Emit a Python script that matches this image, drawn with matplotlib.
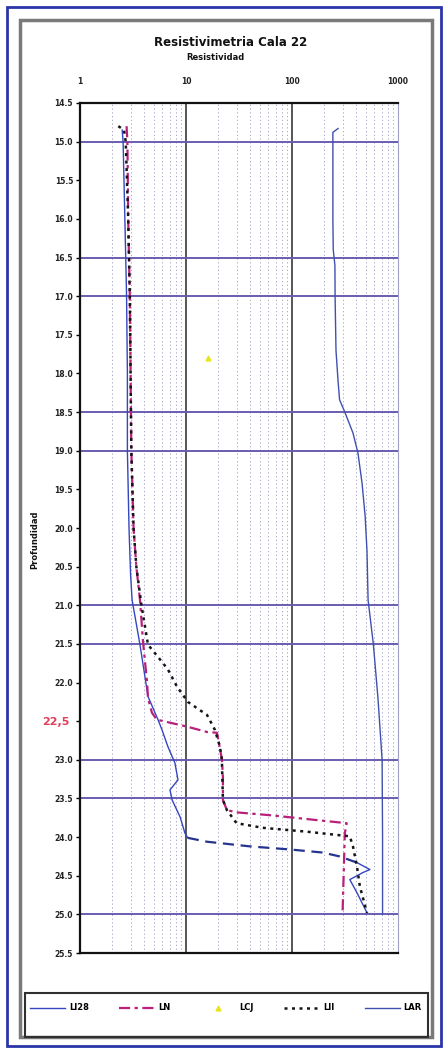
import matplotlib
matplotlib.use("Agg")
import matplotlib.pyplot as plt
from matplotlib.patches import Rectangle
from matplotlib.lines import Line2D
import numpy as np

# --- data ---
li_depth = [14.85, 15.0, 16.0, 17.0, 18.0, 19.0, 20.0, 20.6, 20.93, 21.51, 22.18, 22.48, 22.61,
            22.83, 23.04, 23.26, 23.39, 23.52, 23.74, 23.95, 24.01,
            24.06, 24.12, 24.16, 24.2, 24.25,
            24.33, 24.42, 24.46, 24.55, 24.72, 24.98]
li_val = [2.5, 2.55, 2.65, 2.75, 2.8, 2.8, 2.9, 3.0, 3.1, 3.68, 4.38, 5.44, 5.93,
          6.75, 7.86, 8.4, 7.06, 7.4, 8.8, 9.78, 10.4,
          15.8, 40, 95, 195, 281,
          410, 543, 465, 351, 410, 510]
li_jump = (20, 26)  # points drawn dashed (the jump)

ln_depth = [14.8, 15.0, 16.0, 17.0, 18.0, 19.0, 20.0, 20.5, 20.93, 21.47, 21.98, 22.2, 22.39,
            22.48, 22.57, 22.64, 22.65, 22.99, 23.22, 23.52, 23.65, 23.68, 23.72, 23.78,
            23.82, 23.95, 24.98]
ln_val = [2.75, 2.8, 2.85, 2.95, 3.0, 3.05, 3.2, 3.4, 3.68, 3.93, 4.28, 4.38, 4.77,
          5.3, 10.2, 15.8, 19.6, 21.8, 22.3, 22.3, 24.3, 30, 66, 171,
          328, 315, 300]

lcj_depth = [17.8]
lcj_val = [16]

lii_depth = [14.8, 14.85, 15.0, 16.0, 17.0, 18.0, 19.0, 20.0, 20.5, 21.0, 21.51, 21.7, 21.83,
             22.05, 22.25, 22.42, 22.61, 22.83, 23.0, 23.52, 23.65, 23.82, 23.88, 23.93,
             23.99, 24.12, 24.38, 24.64, 24.98]
lii_val = [2.3, 2.6, 2.7, 2.85, 2.95, 3.0, 3.05, 3.2, 3.4, 3.8, 4.38, 5.68, 6.75,
           8.2, 10.4, 15.8, 18.7, 20.9, 21.8, 22.3, 24.3, 30, 53, 138,
           351, 376, 410, 437, 510]

lar_depth = [14.83, 14.88, 15.0, 16.0, 16.4, 16.6, 17.0, 17.7, 18.1, 18.34, 18.5, 18.77,
             19.03, 19.42, 19.85, 20.3, 20.93, 21.5, 22.2, 23.0, 24.0, 25.0]
lar_val = [272, 243, 243, 243, 245, 254, 255, 260, 272, 281, 315, 376,
           419, 458, 490, 510, 522, 585, 647, 708, 715, 715]

names = ["LI28", "LN", "LCJ", "LII", "LAR"]
ref_lines = [15.0, 16.5, 17.0, 18.5, 19.0, 21.0, 21.5, 23.0, 23.5, 25.0]
yticks = np.arange(14.5, 25.51, 0.5)

W, H = 448, 1050
fig = plt.figure(figsize=(W / 100, H / 100), dpi=100)

def fx(px):
    return px / W

def fy(py):
    return 1 - py / H

# frames
fig.patches.append(Rectangle((fx(7), fy(1046)), fx(434), (1039) / H, transform=fig.transFigure,
                             fill=False, ec="#2a35a8", lw=2))
fig.patches.append(Rectangle((fx(20), fy(1037)), fx(412), (1017) / H, transform=fig.transFigure,
                             fill=False, ec="#7a7a7a", lw=2.5))
fig.patches.append(Rectangle((fx(25), fy(1037)), fx(403), 44 / H, transform=fig.transFigure,
                             fill=False, ec="#303030", lw=1.5))

ax = fig.add_axes([fx(80), fy(953), (398 - 80) / W, (953 - 103) / H])
ax.set_xscale("log")
ax.set_xlim(1, 1000)
ax.set_ylim(25.5, 14.5)

# grid
for dec in [1, 10, 100]:
    for k in range(2, 10):
        ax.axvline(dec * k, color="#9a9bc0", lw=0.6, ls=(0, (1.5, 3)), zorder=0)
for v in [10, 100]:
    ax.axvline(v, color="#555555", lw=1.4, zorder=1)
for d in ref_lines:
    ax.axhline(d, color="#6a5cb0", lw=1.4, zorder=1)

# series
a, b = li_jump
ax.plot(li_val[:a + 1], li_depth[:a + 1], color="#3446c0", lw=1.0, zorder=3)
ax.plot(li_val[a:b + 1], li_depth[a:b + 1], color="#24348f", lw=1.6, ls=(0, (5, 3)), zorder=3)
ax.plot(li_val[b:], li_depth[b:], color="#3446c0", lw=1.0, zorder=3)
ax.plot(ln_val, ln_depth, color="#b8207a", lw=1.6, ls=(0, (5, 2, 1.5, 2)), zorder=4)
ax.plot(lcj_val, lcj_depth, ls="none", marker="^", ms=3.5, color="#e6e620", zorder=4)
ax.plot(lii_val, lii_depth, color="#151515", lw=1.8, ls=(0, (1.2, 1.8)), zorder=5)
ax.plot(lar_val, lar_depth, color="#4050b0", lw=1.0, zorder=3)

# axes styling
ax.xaxis.tick_top()
ax.set_xticks([1, 10, 100, 1000])
ax.set_xticklabels(["1", "10", "100", "1000"])
ax.xaxis.set_minor_locator(matplotlib.ticker.NullLocator())
ax.tick_params(axis="x", length=0, pad=12, labelsize=5.5, labelcolor="#222222")
ax.set_yticks(yticks)
ax.set_yticklabels(["" if abs(t - 22.5) < 1e-6 else f"{t:.1f}" for t in yticks])
ax.tick_params(axis="y", length=3, width=1, pad=2, labelsize=5.5, labelcolor="#222222")
for lab in ax.get_xticklabels() + ax.get_yticklabels():
    lab.set_fontweight("bold")
for s in ["top", "left", "bottom"]:
    ax.spines[s].set_linewidth(1.6)
    ax.spines[s].set_color("#111111")
ax.spines["right"].set_color("#9fa0c8")
ax.spines["right"].set_linewidth(0.8)

# texts
fig.text(fx(231), fy(42), "Resistivimetria Cala 22", ha="center", va="center",
         fontsize=8.5, fontweight="bold", color="#111111")
fig.text(fx(215), fy(57), "Resistividad", ha="center", va="center",
         fontsize=6, fontweight="bold", color="#111111")
fig.text(fx(35), fy(540), "Profundidad", rotation=90, ha="center", va="center",
         fontsize=6, fontweight="bold", color="#111111")
fig.text(fx(56), fy(722), "22,5", ha="center", va="center",
         fontsize=8, fontweight="bold", color="#e0405a")

# legend
handles = [Line2D([], [], color="#3446c0", lw=1.0),
           Line2D([], [], color="#b8207a", lw=1.6, ls=(0, (5, 2, 1.5, 2))),
           Line2D([], [], ls="none", marker="^", ms=3.5, color="#e6e620"),
           Line2D([], [], color="#151515", lw=1.8, ls=(0, (1.2, 1.8))),
           Line2D([], [], color="#4050b0", lw=1.0)]
leg = fig.legend(handles, names, loc="center", bbox_to_anchor=(fx(226), fy(1008)), ncol=5,
                 frameon=False, fontsize=6, handlelength=4.2, handletextpad=0.5,
                 columnspacing=3.6)
for t in leg.get_texts():
    t.set_fontweight("bold")

fig.savefig("out.png", dpi=100)
